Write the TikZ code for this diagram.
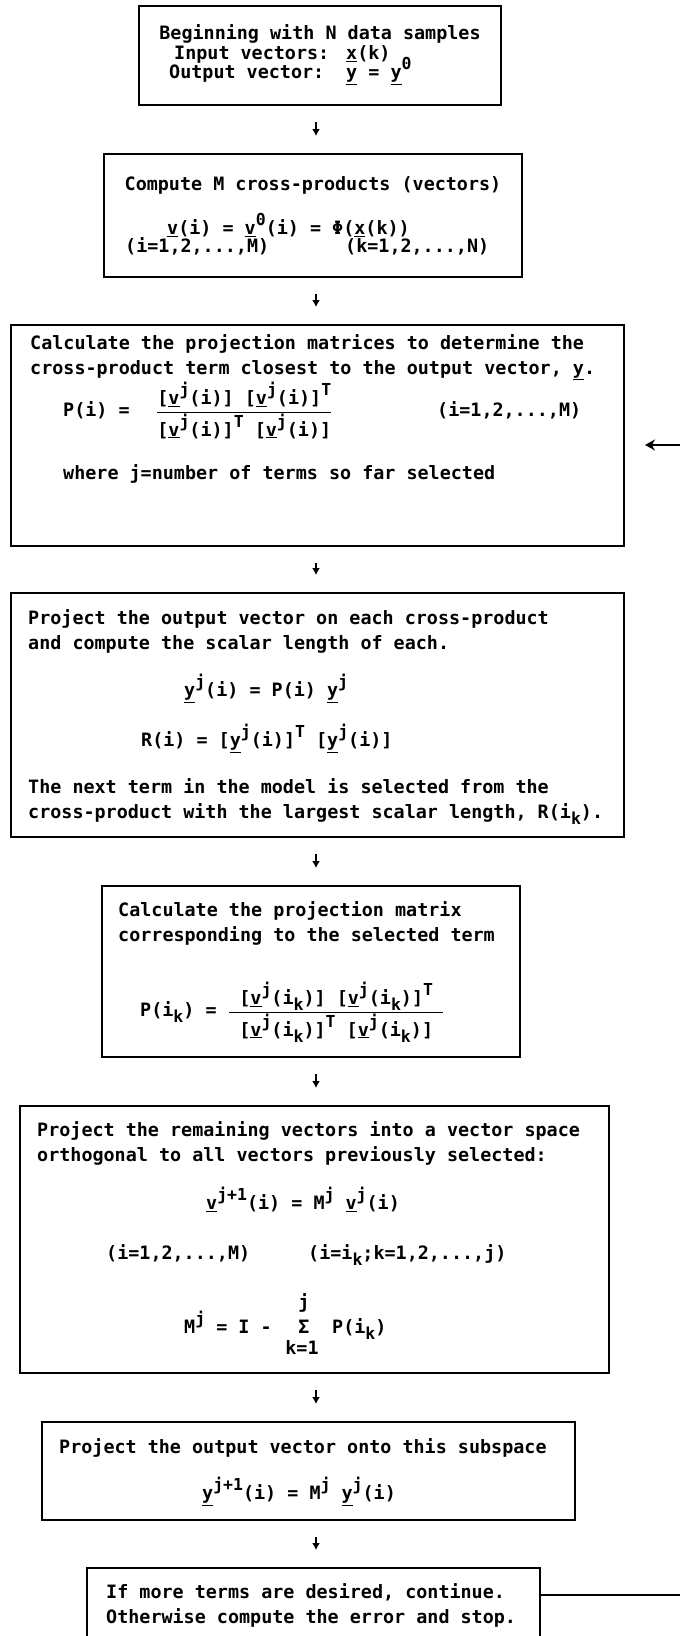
\documentclass[tikz,border=0pt]{standalone}
\usepackage{fontspec}
\setmainfont{DejaVu Sans Mono}
\usetikzlibrary{calc,arrows.meta}
\newcommand\myuv[1]{\underline{#1}}
\newcommand\mysup[1]{\raisebox{0.5em}{\fontsize{16.5pt}{16.5pt}\selectfont #1}}
\newcommand\mysub[1]{\raisebox{-0.35em}{\fontsize{16.5pt}{16.5pt}\selectfont #1}}
\begin{document}
\begin{tikzpicture}[x=1pt,y=-1pt,
  box/.style={draw, line width=2pt, inner sep=0pt},
  txt/.style={inner sep=0pt, font=\fontsize{18.4pt}{22pt}\selectfont\bfseries},
  darr/.style={line width=2pt, -{Latex[length=7pt,width=8pt]}, shorten <=16pt, shorten >=17pt},
  fb/.style={line width=2pt, -{Stealth[length=10pt,width=11pt]}}]
\useasboundingbox (0,0) rectangle (680,1636);
% boxes
\node[box, minimum width=362pt, minimum height=99pt]  (b1) at (320,55.5) {};
\node[box, minimum width=418pt, minimum height=123pt] (b2) at (313,215.5) {};
\node[box, minimum width=613pt, minimum height=221pt] (b3) at (317.5,435.5) {};
\node[box, minimum width=613pt, minimum height=244pt] (b4) at (317.5,715) {};
\node[box, minimum width=418pt, minimum height=171pt] (b5) at (311,971.5) {};
\node[box, minimum width=589pt, minimum height=267pt] (b6) at (314.5,1239.5) {};
\node[box, minimum width=533pt, minimum height=98pt]  (b7) at (308.5,1471) {};
\node[box, minimum width=453pt, minimum height=82pt]  (b8) at (313.5,1609) {};
% box 1
\node[txt, anchor=base] (t1a) at (320,39.5) {Beginning with N data samples};
\node[txt, anchor=base west] (t1b) at (174,59.5) {Input vectors:};
\node[txt, anchor=base west] (t1c) at (346,59.5) {\myuv{x}(k)};
\node[txt, anchor=base west] (t1d) at (169,78.5) {Output vector:};
\node[txt, anchor=base west] (t1e) at (346,78.5) {\myuv{y} = \myuv{y}\mysup{0}};
% box 2
\node[txt, anchor=base] (t2a) at (313,190.5) {Compute M cross-products (vectors)};
\node[txt, anchor=base west] (t2b) at (167,234.5) {\myuv{v}(i) = \myuv{v}\mysup{0}(i) = Φ(\myuv{x}(k))};
\node[txt, anchor=base west] (t2c) at (125,252.5) {(i=1,2,...,M)};
\node[txt, anchor=base west] (t2d) at (345,252.5) {(k=1,2,...,N)};
% box 3
\node[txt, anchor=base west] (t3a) at (30,349.5) {Calculate the projection matrices to determine the};
\node[txt, anchor=base west] (t3b) at (30,374) {cross-product term closest to the output vector, \myuv{y}.};
\node[txt, anchor=base west] (t3c) at (63,416.5) {P(i) =};
\node[txt, anchor=base west] (t3d) at (156,416.5) {$\displaystyle\frac{\mbox{[\myuv{v}\mysup{j}(i)]\ [\myuv{v}\mysup{j}(i)]\mysup{T}}}{\mbox{[\myuv{v}\mysup{j}(i)]\mysup{T} [\myuv{v}\mysup{j}(i)]}}$};
\node[txt, anchor=base west] (t3e) at (437,416.5) {(i=1,2,...,M)};
\node[txt, anchor=base west] (t3f) at (63,479.5) {where j=number of terms so far selected};
% box 4
\node[txt, anchor=base west] (t4a) at (28,624.5) {Project the output vector on each cross-product};
\node[txt, anchor=base west] (t4b) at (28,649.5) {and compute the scalar length of each.};
\node[txt, anchor=base west] (t4c) at (184,696.5) {\myuv{y}\mysup{j}(i) = P(i) \myuv{y}\mysup{j}};
\node[txt, anchor=base west] (t4d) at (141,746.5) {R(i) = [\myuv{y}\mysup{j}(i)]\mysup{T} [\myuv{y}\mysup{j}(i)]};
\node[txt, anchor=base west] (t4e) at (28,793.5) {The next term in the model is selected from the};
\node[txt, anchor=base west] (t4f) at (28,818.5) {cross-product with the largest scalar length, R(i\mysub{k}).};
% box 5
\node[txt, anchor=base west] (t5a) at (118,916.5) {Calculate the projection matrix};
\node[txt, anchor=base west] (t5b) at (118,941.5) {corresponding to the selected term};
\node[txt, anchor=base west] (t5c) at (140,1016.5) {P(i\mysub{k}) =};
\node[txt, anchor=base west] (t5d) at (228,1016.5) {$\displaystyle\frac{\mbox{\hspace{10pt}[\myuv{v}\mysup{j}(i\mysub{k})]\ [\myuv{v}\mysup{j}(i\mysub{k})]\mysup{T}\hspace{10pt}}}{\mbox{[\myuv{v}\mysup{j}(i\mysub{k})]\mysup{T} [\myuv{v}\mysup{j}(i\mysub{k})]}}$};
% box 6
\node[txt, anchor=base west] (t6a) at (37,1136.5) {Project the remaining vectors into a vector space};
\node[txt, anchor=base west] (t6b) at (37,1161.5) {orthogonal to all vectors previously selected:};
\node[txt, anchor=base west] (t6c) at (206,1209.5) {\myuv{v}\mysup{j+1}(i) = M\mysup{j} \myuv{v}\mysup{j}(i)};
\node[txt, anchor=base west] (t6d) at (106,1259.5) {(i=1,2,...,M)};
\node[txt, anchor=base west] (t6e) at (308,1259.5) {(i=i\mysub{k};k=1,2,...,j)};
\node[txt, anchor=base west] (t6f) at (184,1333.5) {M\mysup{j} = I -};
\node[txt, anchor=base] (t6g) at (304,1333.5) {Σ};
\node[txt, anchor=base] (t6h) at (304,1308.5) {j};
\node[txt, anchor=base] (t6i) at (302,1354.5) {k=1};
\node[txt, anchor=base west] (t6j) at (332,1333.5) {P(i\mysub{k})};
% box 7
\node[txt, anchor=base west] (t7a) at (59,1453.5) {Project the output vector onto this subspace};
\node[txt, anchor=base west] (t7b) at (202,1499.5) {\myuv{y}\mysup{j+1}(i) = M\mysup{j} \myuv{y}\mysup{j}(i)};
% box 8
\node[txt, anchor=base west] (t8a) at (106,1598.5) {If more terms are desired, continue.};
\node[txt, anchor=base west] (t8b) at (106,1623.5) {Otherwise compute the error and stop.};
% arrows
\coordinate (ax) at (316,0);
\draw[darr] (b1.south -| ax) -- (b2.north -| ax);
\draw[darr] (b2.south -| ax) -- (b3.north -| ax);
\draw[darr] (b3.south -| ax) -- (b4.north -| ax);
\draw[darr] (b4.south -| ax) -- (b5.north -| ax);
\draw[darr] (b5.south -| ax) -- (b6.north -| ax);
\draw[darr] (b6.south -| ax) -- (b7.north -| ax);
\draw[darr] (b7.south -| ax) -- (b8.north -| ax);
\draw[fb] ($(b8.north east)+(0,28)$) -- ++(160,0) |- ($(b3.east)+(20,9.5)$);
\end{tikzpicture}
\end{document}
